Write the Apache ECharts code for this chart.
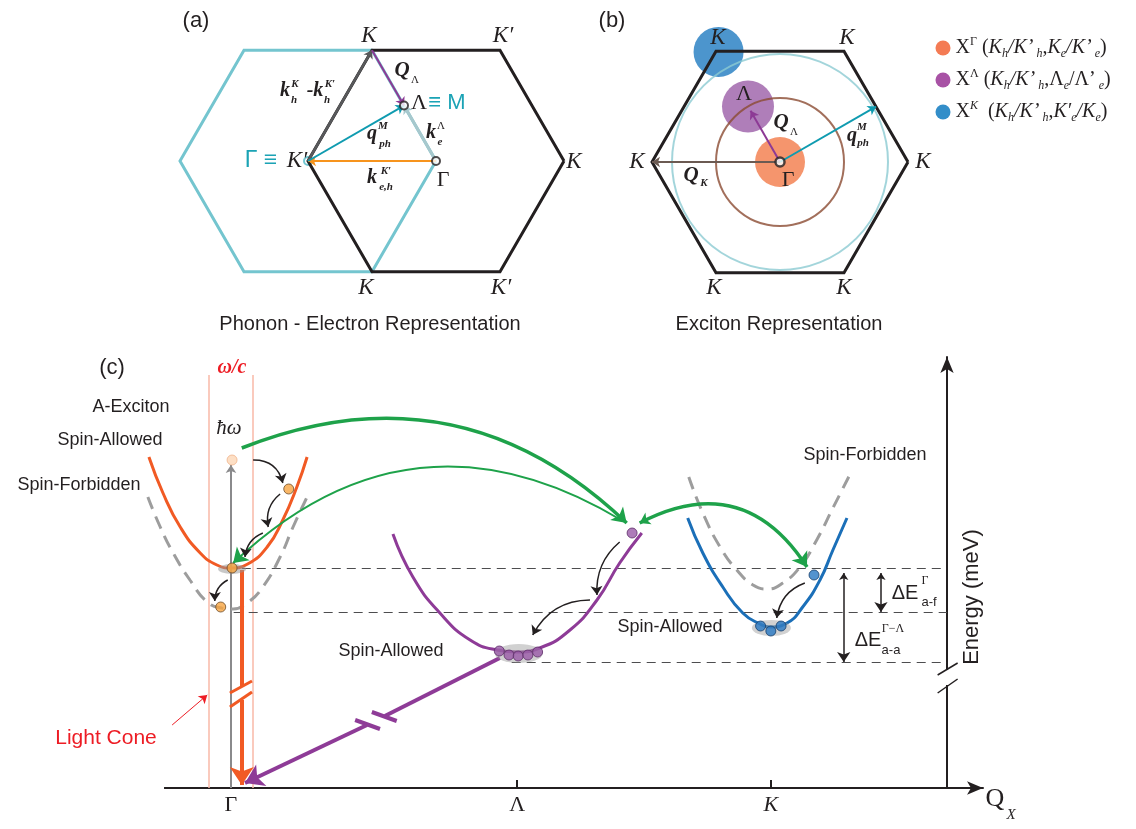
<!DOCTYPE html>
<html><head><meta charset="utf-8">
<script src="https://cdn.jsdelivr.net/npm/echarts@6/dist/echarts.min.js"></script>
<style>html,body{margin:0;padding:0;background:#fff}#main{width:1136px;height:829px}</style>
</head><body><div id="main"></div>
<script>
// ===== Panels (a),(b): Brillouin-zone geometry, units of hexagon circumradius =====
const hexBlack = [[1,0],[0.5,0.866],[-0.5,0.866],[-1,0],[-0.5,-0.866],[0.5,-0.866],[1,0]];
const hexCyan  = [[0,0],[-0.5,0.866],[-1.5,0.866],[-2,0],[-1.5,-0.866],[-0.5,-0.866],[0,0]];
const ptGamma  = [0,0];
const ptK      = [-0.5,0.866];
const ptKp     = [-1,0];
const ptLambda = [-0.25,0.433];
const ptM      = [0.75,0.433];
const ptKcircle = [-0.48,0.86];
const legendNames = ['XΓ','XΛ','XK'];

// ===== Panel (c): dispersion, Q in % of Γ–K, E in meV (arbitrary offset) =====
const qTicks = [0, 53, 100];
const qTickNames = ['Γ','Λ','K'];
const gammaBrightQ = [-15.2,-12.6,-9.4,-5.7,-2.6,0,3.1,6.7,9.6,12.2,14.1];
const gammaBrightE = [331,295,261,235,223,220,224,241,268,301,331];
const gammaDarkQ = [-15.4,-13.1,-10.7,-7.6,-4.4,-1.7,0.4,3.0,5.9,9.1,11.5,14.1];
const gammaDarkE = [291,261,235,208,186,180,179,185,201,231,261,291];
const lambdaQ = [30.0,33.7,38.7,44.3,49.3,53.0,57.2,62.8,67.8,72.0,76.1];
const lambdaE = [254,211,175,148,138,136,140,158,188,225,255];
const kBrightQ = [84.6,87.4,91.1,94.8,98.0,99.8,103.0,105.9,109.1,111.5,114.1];
const kBrightE = [270,235,201,175,164,161,165,181,208,238,270];
const kDarkQ = [84.8,87.4,90.6,93.7,96.7,99.3,102.2,105.4,108.5,111.5,114.8];
const kDarkE = [311,275,241,218,203,199,205,221,248,280,315];
const levelE = [220,176,126];
const levelStartQ = [2,0.5,52];
const energyAxisQ = 132.6;
const gammaDotsQ = [10.7,0.2,-1.9];
const gammaDotsE = [299,220,181];
const photonQ = [0.2], photonE = [328];
const lambdaDotsQ = [74.3,49.7,51.5,53.2,55.0,56.8];
const lambdaDotsE = [255,137,133,132,133,136];
const kDotsQ = [108.0,98.1,100.0,101.9];
const kDotsE = [213,162,157,162];
const poolQ = [0.2,53.3,100.1];
const poolE = [219,134.5,160];
const lightConeQ = [-4.1,4.1];
const lightConeTopE = 413;
const qAxisStart = -12.4;

const zip = (a,b) => a.map((v,i)=>[v,b[i]]);
const SERIF = '"Liberation Serif","DejaVu Serif",serif';
const SANS = '"Liberation Sans","DejaVu Sans",Arial,sans-serif';
const INK = '#231f20';
const GA = {xAxisIndex:0,yAxisIndex:0}, GB = {xAxisIndex:1,yAxisIndex:1}, GC = {xAxisIndex:2,yAxisIndex:2};
const L = (p1,p2,color,width,extra) => ({coords:[p1,p2], lineStyle:Object.assign({color,width,opacity:1},extra||{})});

const series = [];
// ---------- panel (a) ----------
series.push(Object.assign({type:'line', data:hexCyan, symbol:'none', lineStyle:{color:'#74c5cf',width:3,join:'miter'}, z:2, silent:true}, GA));
series.push(Object.assign({type:'line', data:hexBlack, symbol:'none', lineStyle:{color:INK,width:3,join:'miter'}, z:3, silent:true}, GA));
series.push(Object.assign({type:'lines', coordinateSystem:'cartesian2d', symbol:['none','arrow'], symbolSize:8, z:5, silent:true,
  data:[
    L(ptKp,ptK,'#58595b',2.5),
    L(ptGamma,ptLambda,'#a7c8cd',3),
    L(ptGamma,ptKp,'#f7941d',2),
    L(ptKp,ptLambda,'#0f9bb0',2),
    L(ptK,ptLambda,'#8d3a95',2)
  ]}, GA));
series.push(Object.assign({type:'scatter', data:[ptGamma,ptLambda], symbol:'circle', symbolSize:8, itemStyle:{color:'#fff',borderColor:INK,borderWidth:2}, z:7, silent:true}, GA));
series.push(Object.assign({type:'scatter', data:[ptKp], symbol:'circle', symbolSize:8, itemStyle:{color:'#fff',borderColor:'#4fb8c6',borderWidth:2}, z:2, silent:true}, GA));

// ---------- panel (b) ----------
series.push(Object.assign({type:'scatter', name:legendNames[0], data:[ptGamma], symbolSize:50, itemStyle:{color:'#f37a48'}, z:1, silent:true}, GB));
series.push(Object.assign({type:'scatter', name:legendNames[1], data:[ptLambda], symbolSize:52, itemStyle:{color:'#9b5ea8'}, z:1, silent:true}, GB));
series.push(Object.assign({type:'scatter', name:legendNames[2], data:[ptKcircle], symbolSize:50, itemStyle:{color:'#1f7bc0'}, z:1, silent:true}, GB));
series.push(Object.assign({type:'scatter', data:[ptGamma], symbolSize:216, itemStyle:{color:'rgba(0,0,0,0)',borderColor:'#8ccbd2',borderWidth:2}, z:3, silent:true}, GB));
series.push(Object.assign({type:'scatter', data:[ptGamma], symbolSize:128, itemStyle:{color:'rgba(0,0,0,0)',borderColor:'#8b4b32',borderWidth:2}, z:3, silent:true}, GB));
series.push(Object.assign({type:'line', data:hexBlack, symbol:'none', lineStyle:{color:INK,width:3,join:'miter'}, z:3, silent:true}, GB));
series.push(Object.assign({type:'lines', coordinateSystem:'cartesian2d', symbol:['none','arrow'], symbolSize:8, z:5, silent:true,
  data:[
    L(ptGamma,[-0.23,0.40],'#8d3a95',2),
    L(ptGamma,ptM,'#0f9bb0',2),
    L(ptGamma,ptKp,'#6b5a52',2)
  ]}, GB));
series.push(Object.assign({type:'scatter', data:[ptGamma], symbolSize:9, itemStyle:{color:'#fff',borderColor:INK,borderWidth:2.5}, z:7, silent:true}, GB));

// ---------- panel (c) ----------
// white cover that trims the Q axis line to where it starts in the original
series.push(Object.assign({type:'lines', coordinateSystem:'cartesian2d', symbol:'none', z:10, clip:false, silent:true,
  data:[ L([-17.5,0],[qAxisStart,0],'#ffffff',6) ]}, GC));
// plain segments (no arrows)
series.push(Object.assign({type:'lines', coordinateSystem:'cartesian2d', symbol:'none', z:1, silent:true,
  data:[
    L([lightConeQ[0],0],[lightConeQ[0],lightConeTopE],'#f9b9a7',1.5),
    L([lightConeQ[1],0],[lightConeQ[1],lightConeTopE],'#f9b9a7',1.5),
    L([levelStartQ[0],levelE[0]],[energyAxisQ,levelE[0]],'#4d4d4f',1.2,{type:[9,6]}),
    L([levelStartQ[1],levelE[1]],[energyAxisQ,levelE[1]],'#4d4d4f',1.2,{type:[9,6]}),
    L([levelStartQ[2],levelE[2]],[energyAxisQ,levelE[2]],'#4d4d4f',1.2,{type:[9,6]})
  ]}, GC));
// dispersion curves
series.push(Object.assign({type:'line', data:zip(gammaDarkQ,gammaDarkE), smooth:true, symbol:'none', lineStyle:{color:'#9d9d9d',width:3,type:[13,8]}, z:2, silent:true}, GC));
series.push(Object.assign({type:'line', data:zip(gammaBrightQ,gammaBrightE), smooth:true, symbol:'none', lineStyle:{color:'#f15a24',width:3}, z:3, silent:true}, GC));
series.push(Object.assign({type:'line', data:zip(lambdaQ,lambdaE), smooth:true, symbol:'none', lineStyle:{color:'#8e3b97',width:3}, z:3, silent:true}, GC));
series.push(Object.assign({type:'line', data:zip(kDarkQ,kDarkE), smooth:true, symbol:'none', lineStyle:{color:'#9d9d9d',width:3,type:[13,8]}, z:2, silent:true}, GC));
series.push(Object.assign({type:'line', data:zip(kBrightQ,kBrightE), smooth:true, symbol:'none', lineStyle:{color:'#1b6fb8',width:3}, z:3, silent:true}, GC));
// segments before the breaks + break marks
series.push(Object.assign({type:'lines', coordinateSystem:'cartesian2d', symbol:'none', z:4, silent:true,
  data:[
    L([2.0,218],[2.0,102],'#f15a24',4),
    L([-0.2,95],[3.9,107],'#f15a24',3),
    L([-0.2,81],[3.9,96],'#f15a24',3),
    L([49.8,130],[28.5,72],'#8e3b97',4),
    L([26.1,76],[30.7,67],'#8e3b97',4),
    L([23.0,68],[27.6,59],'#8e3b97',4),
    L([energyAxisQ,103],[energyAxisQ,118],'#ffffff',5),
    L([130.9,113],[134.6,125],INK,1.5),
    L([130.9,95],[134.6,109],INK,1.5)
  ]}, GC));
// big arrows
series.push(Object.assign({type:'lines', coordinateSystem:'cartesian2d', symbol:['none','arrow'], symbolSize:[13,18], z:4, silent:true,
  data:[
    L([2.0,88],[2.0,3],'#f15a24',4),
    L([25.2,63],[2.6,5],'#8e3b97',4)
  ]}, GC));
series.push(Object.assign({type:'lines', coordinateSystem:'cartesian2d', symbol:['none','arrow'], symbolSize:8, z:2, silent:true,
  data:[ L([0,0],[0,323],'#8a8a8c',2) ]}, GC));
// green phonon-assisted arrows
series.push(Object.assign({type:'lines', coordinateSystem:'cartesian2d', symbol:['none','arrow'], symbolSize:[10,14], z:5, silent:true,
  data:[
    L([2.0,340],[73.3,265],'#1ea24a',3.5,{curveness:0.32}),
    L([72.6,267],[0.4,225],'#1ea24a',2,{curveness:-0.38})
  ]}, GC));
series.push(Object.assign({type:'lines', coordinateSystem:'cartesian2d', symbol:['arrow','arrow'], symbolSize:[10,14], z:5, silent:true,
  data:[ L([75.7,265],[106.7,221],'#1ea24a',3.5,{curveness:0.455}) ]}, GC));
// black relaxation arrows
series.push(Object.assign({type:'lines', coordinateSystem:'cartesian2d', symbol:['none','arrow'], symbolSize:[7,9], z:5, silent:true,
  data:[
    L([4.1,328],[9.6,305],INK,1.5,{curveness:0.4}),
    L([9.1,294],[6.9,261],INK,1.5,{curveness:-0.3}),
    L([5.9,255],[2.6,231],INK,1.5,{curveness:-0.3}),
    L([-0.6,208],[-3.0,187],INK,1.5,{curveness:-0.3}),
    L([72.0,246],[67.8,193],INK,1.5,{curveness:-0.25}),
    L([66.5,188],[55.9,153],INK,1.5,{curveness:-0.3}),
    L([106.3,205],[101.1,170],INK,1.5,{curveness:-0.3})
  ]}, GC));
series.push(Object.assign({type:'lines', coordinateSystem:'cartesian2d', symbol:['none','arrow'], symbolSize:[6,8], z:5, silent:true,
  data:[ L([-10.9,63],[-4.4,93],'#ed1c24',1) ]}, GC));
// energy-gap double arrows
series.push(Object.assign({type:'lines', coordinateSystem:'cartesian2d', symbol:['arrow','arrow'], symbolSize:[7,10], z:5, silent:true,
  data:[
    L([120.4,215],[120.4,176],INK,1.5),
    L([113.5,215],[113.5,126],INK,1.5)
  ]}, GC));
// carrier pools and dots
series.push(Object.assign({type:'scatter', data:[[poolQ[0],poolE[0]]], symbolSize:[28,10], itemStyle:{color:'rgba(150,150,150,0.65)'}, z:5, silent:true}, GC));
series.push(Object.assign({type:'scatter', data:[[poolQ[1],poolE[1]]], symbolSize:[48,19], itemStyle:{color:'rgba(150,150,150,0.55)'}, z:5, silent:true}, GC));
series.push(Object.assign({type:'scatter', data:[[poolQ[2],poolE[2]]], symbolSize:[39,16], itemStyle:{color:'rgba(150,150,150,0.55)'}, z:5, silent:true}, GC));
series.push(Object.assign({type:'scatter', data:zip(gammaDotsQ,gammaDotsE), symbolSize:10, itemStyle:{color:'#f7a541',borderColor:'#6d4c2a',borderWidth:1}, z:6, silent:true}, GC));
series.push(Object.assign({type:'scatter', data:zip(photonQ,photonE), symbolSize:10, itemStyle:{color:'#fdd7b6',borderColor:'#f0b48c',borderWidth:1}, z:6, silent:true}, GC));
series.push(Object.assign({type:'scatter', data:zip(lambdaDotsQ,lambdaDotsE), symbolSize:10, itemStyle:{color:'#9a5aa8',borderColor:'#5c2d68',borderWidth:1}, z:6, silent:true}, GC));
series.push(Object.assign({type:'scatter', data:zip(kDotsQ,kDotsE), symbolSize:10, itemStyle:{color:'#2878c3',borderColor:'#163f6b',borderWidth:1}, z:6, silent:true}, GC));

// ---------- texts ----------
function T(x,y,text,o){ return {type:'text', x, y, z:100, silent:true, style:Object.assign({text, fill:INK, fontFamily:SANS, fontSize:20, align:'center', verticalAlign:'middle'}, o||{})}; }
const it = (s)=>({fontFamily:SERIF, fontStyle:'italic', fontSize:s});
const bi = (s)=>({fontFamily:SERIF, fontStyle:'italic', fontWeight:'bold', fontSize:s});
const sf = (s)=>({fontFamily:SERIF, fontSize:s});
const texts = [
  T(196,21,'(a)',{fontSize:22}), T(612,21,'(b)',{fontSize:22}), T(112,368,'(c)',{fontSize:22}),
  // panel a
  T(369,36,'K',it(23)), T(503,36,'K′',it(23)), T(574,162,'K',it(23)), T(366,288,'K',it(23)), T(501,288,'K′',it(23)),
  T(370,324,'Phonon - Electron Representation',{fontSize:20}),
  T(261,161,'Γ ≡',{fill:'#1ba3b5',fontSize:23}), T(297,161,'K′',it(23)),
  T(419,103,'Λ',sf(22)), T(447,103,'≡ M',{fill:'#1ba3b5',fontSize:22}),
  T(402,71,'Q',bi(21)), T(415,80,'Λ',sf(11)),
  T(285,91,'k',bi(20)), T(295,84,'K',bi(11)), T(294,100,'h',bi(11)),
  T(315,91,'-k',bi(20)), T(330,84,'K′',bi(11)), T(327,100,'h',bi(11)),
  T(372,134,'q',bi(20)), T(383,126,'M',bi(11)), T(385,144,'ph',bi(11)),
  T(431,133,'k',bi(20)), T(441,126,'Λ',sf(11)), T(440,142,'e',bi(11)),
  T(372,178,'k',bi(20)), T(386,171,'K′',bi(11)), T(386,187,'e,h',bi(11)),
  T(443,180,'Γ',sf(22)),
  // panel b
  T(718,38,'K',it(23)), T(847,38,'K',it(23)), T(637,162,'K',it(23)), T(923,162,'K',it(23)), T(714,288,'K',it(23)), T(844,288,'K',it(23)),
  T(744,94,'Λ',sf(22)),
  T(781,123,'Q',bi(21)), T(794,132,'Λ',sf(11)),
  T(852,136,'q',bi(20)), T(862,127,'M',bi(11)), T(863,143,'ph',bi(11)),
  T(691,176,'Q',bi(21)), T(704,183,'K',bi(11)),
  T(788,180,'Γ',sf(22)),
  T(779,324,'Exciton Representation',{fontSize:20}),
  // panel c
  T(232,368,'ω/c',Object.assign(bi(20),{fill:'#ed1c24'})),
  T(229,428,'ħω',it(21)),
  T(131,407,'A-Exciton',{fontSize:18}),
  T(110,440,'Spin-Allowed',{fontSize:18}),
  T(79,485,'Spin-Forbidden',{fontSize:18}),
  T(106,738,'Light Cone',{fontSize:21,fill:'#ed1c24'}),
  T(391,651,'Spin-Allowed',{fontSize:18}),
  T(670,627,'Spin-Allowed',{fontSize:18}),
  T(865,455,'Spin-Forbidden',{fontSize:18}),
  T(905,593,'ΔE',{fontSize:20}), T(925,581,'Γ',sf(12)), T(929,602,'a-f',{fontSize:13}),
  T(868,640,'ΔE',{fontSize:20}), T(893,629,'Γ−Λ',sf(12)), T(891,650,'a-a',{fontSize:13}),
  Object.assign(T(972,597,'Energy (meV)',{fontSize:22}),{rotation:Math.PI/2}),
  T(995,799,'Q',sf(26)), T(1011,815,'X',it(15))
];

const legendText = {
  'XΓ':'{r|X}{sp|Γ}{r| (}{i|K}{sb|h}{i|/K’}{sb| h}{r|,}{i|K}{sb|e}{i|/K’}{sb| e}{r|)}',
  'XΛ':'{r|X}{sp|Λ}{r| (}{i|K}{sb|h}{i|/K’}{sb| h}{r|,Λ}{sb|e}{r|/Λ’}{sb| e}{r|)}',
  'XK':'{r|X}{spi|K}{r|  (}{i|K}{sb|h}{i|/K’}{sb| h}{r|,}{i|K′}{sb|e}{i|/K}{sb|e}{r|)}'
};

const option = {
  animation:false,
  backgroundColor:'#fff',
  textStyle:{fontFamily:SANS},
  grid:[
    {left:148, top:1, width:448, height:320, outerBoundsMode:'none'},
    {left:620, top:2, width:320, height:320, outerBoundsMode:'none'},
    {left:139.2, top:357, width:843.8, height:431, outerBoundsMode:'none'}
  ],
  xAxis:[
    {gridIndex:0, type:'value', min:-2.25, max:1.25, show:false},
    {gridIndex:1, type:'value', min:-1.25, max:1.25, show:false},
    {gridIndex:2, type:'value', min:-17, max:139.3,
      axisLine:{show:true, onZero:false, symbol:['none','arrow'], symbolSize:[10,16], lineStyle:{color:INK,width:2}},
      axisTick:{show:true, inside:true, length:8, customValues:[qTicks[1],qTicks[2]], lineStyle:{color:INK,width:2}},
      axisLabel:{show:true, customValues:qTicks, margin:6, color:INK, fontFamily:SERIF, fontSize:22,
        formatter:(v)=>{const n=qTickNames[qTicks.indexOf(v)]; return n==='K'?'{it|K}':(n||'');},
        rich:{it:{fontFamily:SERIF,fontStyle:'italic',fontSize:22,color:INK}}},
      splitLine:{show:false}}
  ],
  yAxis:[
    {gridIndex:0, type:'value', min:-1.25, max:1.25, show:false},
    {gridIndex:1, type:'value', min:-1.25, max:1.25, show:false},
    {gridIndex:2, type:'value', min:0, max:431, position:'right', offset:-(983-947),
      axisLine:{show:true, onZero:false, symbol:['none','arrow'], symbolSize:[10,16], lineStyle:{color:INK,width:2}},
      axisTick:{show:false}, axisLabel:{show:false}, splitLine:{show:false}}
  ],
  legend:{
    orient:'vertical', left:930.5, top:31, itemWidth:15, itemHeight:15, itemGap:8, icon:'circle',
    selectedMode:false,
    data:[
      {name:legendNames[0], itemStyle:{color:'#f15a29'}},
      {name:legendNames[1], itemStyle:{color:'#92278f'}},
      {name:legendNames[2], itemStyle:{color:'#0072bc'}}
    ],
    formatter:(n)=>legendText[n],
    textStyle:{color:INK, fontFamily:SERIF, fontSize:20, lineHeight:24,
      rich:{
        r:{fontFamily:SERIF,fontSize:20,lineHeight:24,color:INK},
        i:{fontFamily:SERIF,fontStyle:'italic',fontSize:20,lineHeight:24,color:INK},
        sp:{fontFamily:SERIF,fontSize:12,lineHeight:12,verticalAlign:'top',color:INK},
        spi:{fontFamily:SERIF,fontStyle:'italic',fontSize:12,lineHeight:12,verticalAlign:'top',color:INK},
        sb:{fontFamily:SERIF,fontStyle:'italic',fontSize:12,lineHeight:12,verticalAlign:'bottom',color:INK}
      }}
  },
  graphic:texts,
  series
};
const chart = echarts.init(document.getElementById('main'));
chart.setOption(option);
</script></body></html>
